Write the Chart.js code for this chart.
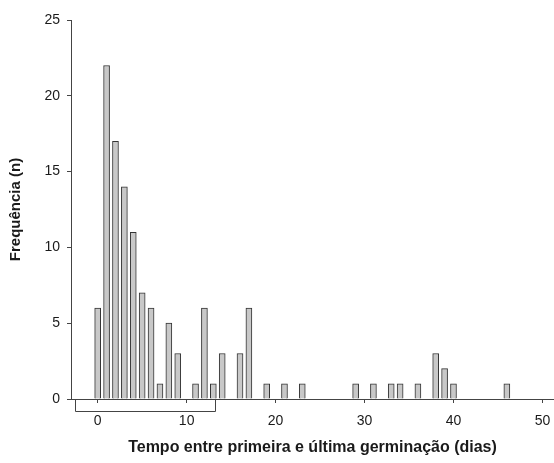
<!DOCTYPE html>
<html>
<head>
<meta charset="utf-8">
<script src="https://cdn.jsdelivr.net/npm/chart.js@4/dist/chart.umd.min.js"></script>
<style>
    html, body { margin: 0; padding: 0; background: #fff; }
    #wrap { width: 554px; height: 463px; }
</style>
</head>
<body>
<div id="wrap"><canvas id="histChart" width="554" height="463"></canvas></div>
<script>
// days between first and last germination, and how many seeds had that value
const days = [0, 1, 2, 3, 4, 5, 6, 7, 8, 9, 11, 12, 13, 14, 16, 17, 19, 21, 23, 29, 31, 33, 34, 36, 38, 39, 40, 46];
const counts = [6, 22, 17, 14, 11, 7, 6, 1, 5, 3, 1, 6, 1, 3, 3, 6, 1, 1, 1, 1, 1, 1, 1, 1, 3, 2, 1, 1];
const xTicks = [0, 10, 20, 30, 40, 50];
const yTicks = [0, 5, 10, 15, 20, 25];
const bracketRange = [-2.5, 13.2];

const axisColor = '#444';
const textColor = '#1a1a1a';

const bracketPlugin = {
    id: 'bracket',
    afterDraw(chart) {
        const x = chart.scales.x;
        const y = chart.scales.y;
        const ctx = chart.ctx;
        const x0 = Math.round(x.getPixelForValue(bracketRange[0])) + 0.5;
        const x1 = Math.round(x.getPixelForValue(bracketRange[1])) + 0.5;
        const base = y.getPixelForValue(0);
        ctx.save();
        ctx.strokeStyle = axisColor;
        ctx.lineWidth = 1;
        ctx.beginPath();
        ctx.moveTo(x0, base);
        ctx.lineTo(x0, base + 12.5);
        ctx.lineTo(x1, base + 12.5);
        ctx.lineTo(x1, base);
        ctx.stroke();
        ctx.restore();
    }
};

const ctx = document.getElementById('histChart').getContext('2d');
new Chart(ctx, {
    type: 'bar',
    data: {
        datasets: [{
            data: days.map((d, i) => ({ x: d, y: counts[i] })),
            backgroundColor: '#c8c8c8',
            borderColor: '#333',
            borderWidth: 1,
            barThickness: 6
        }]
    },
    options: {
        responsive: false,
        animation: false,
        layout: { padding: { top: 20, right: 0, bottom: 0, left: 0 } },
        plugins: {
            legend: { display: false },
            tooltip: { enabled: false }
        },
        scales: {
            x: {
                type: 'linear',
                offset: false,
                min: -3,
                max: 51.3,
                afterBuildTicks: scale => { scale.ticks = xTicks.map(v => ({ value: v })); },
                afterFit: scale => {
                    scale.height = 64;
                    scale.paddingRight = 0;
                    scale.paddingLeft = 0;
                },
                grid: { offset: false, drawOnChartArea: false, drawTicks: true, tickLength: 4, color: axisColor },
                border: { display: true, color: axisColor, width: 1 },
                ticks: {
                    color: textColor,
                    padding: 10,
                    maxRotation: 0,
                    font: { family: 'Liberation Sans, Arial', size: 14 }
                },
                title: {
                    display: true,
                    text: 'Tempo entre primeira e última germinação (dias)',
                    color: textColor,
                    padding: { top: 0, bottom: 6 },
                    font: { family: 'Liberation Sans, Arial', size: 16, weight: 'bold' }
                }
            },
            y: {
                min: 0,
                max: 25,
                afterBuildTicks: scale => { scale.ticks = yTicks.map(v => ({ value: v })); },
                afterFit: scale => { scale.width = 71; },
                grid: { drawOnChartArea: false, drawTicks: true, tickLength: 4, color: axisColor },
                border: { display: true, color: axisColor, width: 1 },
                ticks: {
                    color: textColor,
                    padding: 7,
                    font: { family: 'Liberation Sans, Arial', size: 14 }
                },
                title: {
                    display: true,
                    text: 'Frequência (n)',
                    color: textColor,
                    padding: { top: 7, bottom: 0 },
                    font: { family: 'Liberation Sans, Arial', size: 15, weight: 'bold' }
                }
            }
        }
    },
    plugins: [bracketPlugin]
});
</script>
</body>
</html>
